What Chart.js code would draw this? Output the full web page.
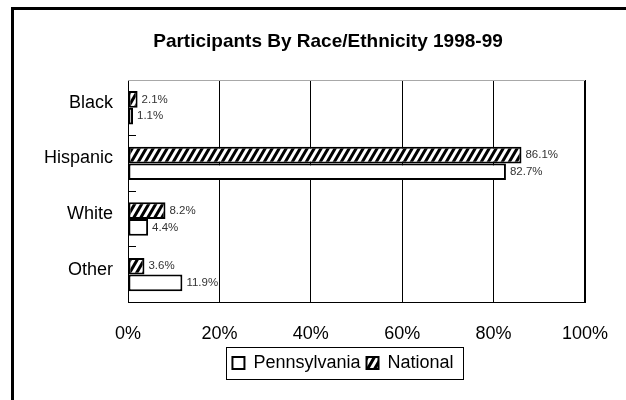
<!DOCTYPE html>
<html>
<head>
<meta charset="utf-8">
<script src="https://cdn.jsdelivr.net/npm/chart.js@4/dist/chart.umd.min.js"></script>
<style>
    html, body { margin: 0; padding: 0; background: #fff; overflow: hidden; }
    #frame { position: absolute; left: 11px; top: 7px; width: 2000px; height: 2000px; border: 3px solid #000; }
    #chart { position: absolute; left: 0; top: 0; }
</style>
</head>
<body>
<div id="frame"></div>
<canvas id="chart" width="626" height="400"></canvas>
<script>
const categories = ['Black', 'Hispanic', 'White', 'Other'];
const nationalValues = [2.1, 86.1, 8.2, 3.6];
const pennsylvaniaValues = [1.1, 82.7, 4.4, 11.9];
const xTickMin = 0;
const xTickMax = 100;
const xTickStep = 20;

const FONT = '"Liberation Sans", Arial, sans-serif';

const $chart = document.getElementById('chart');
const ctx = $chart.getContext('2d');

// diagonal hatch used for the National series
function makeHatch() {
    const tile = document.createElement('canvas');
    tile.width = 7;
    tile.height = 12;
    const g = tile.getContext('2d');
    g.fillStyle = '#fff';
    g.fillRect(0, 0, 7, 12);
    g.fillStyle = '#000';
    for (const k of [-1, 0, 1]) {
        g.beginPath();
        g.moveTo(k * 7, 12);
        g.lineTo(k * 7 + 7, 0);
        g.lineTo(k * 7 + 10.5, 0);
        g.lineTo(k * 7 + 3.5, 12);
        g.closePath();
        g.fill();
    }
    return ctx.createPattern(tile, 'repeat');
}

const titleCenterX = 328;
const legendCenterX = 343;

const framePlugin = {
    id: 'frame',
    afterLayout(chart) {
        const t = chart.titleBlock;
        const dt = titleCenterX - (t.left + t.right) / 2;
        t.left += dt;
        t.right += dt;
        const l = chart.legend;
        const dl = legendCenterX - (l.left + l.right) / 2;
        l.left += dl;
        l.right += dl;
    },
    afterDraw(chart) {
        const c = chart.ctx;
        const area = chart.chartArea;
        c.save();
        // top edge of the plot area
        c.strokeStyle = '#a8a8a8';
        c.lineWidth = 1;
        c.beginPath();
        c.moveTo(area.left, area.top + 0.5);
        c.lineTo(area.right, area.top + 0.5);
        c.stroke();
        // box around the legend
        const boxes = chart.legend.legendHitBoxes;
        if (boxes && boxes.length) {
            const left = Math.min(...boxes.map(b => b.left)) - 6;
            const right = Math.max(...boxes.map(b => b.left + b.width)) + 10;
            const cy = boxes[0].top + boxes[0].height / 2;
            c.strokeStyle = '#000';
            c.lineWidth = 1;
            c.strokeRect(Math.round(left) + 0.5, Math.round(cy - 16) + 0.5, Math.round(right - left), 32);
        }
        c.restore();
    }
};

const valueLabelPlugin = {
    id: 'valueLabels',
    afterDatasetsDraw(chart) {
        const c = chart.ctx;
        c.save();
        c.font = '11.5px ' + FONT;
        c.fillStyle = '#333';
        c.textAlign = 'left';
        c.textBaseline = 'middle';
        chart.data.datasets.forEach((dataset, i) => {
            const meta = chart.getDatasetMeta(i);
            meta.data.forEach((bar, j) => {
                c.fillText(dataset.data[j].toFixed(1) + '%', bar.x + 4, bar.y);
            });
        });
        c.restore();
    }
};

new Chart($chart, {
    type: 'bar',
    data: {
        labels: categories,
        datasets: [{
            label: 'National',
            data: nationalValues,
            backgroundColor: makeHatch(),
            borderColor: '#000',
            borderWidth: 2,
            borderSkipped: false
        }, {
            label: 'Pennsylvania',
            data: pennsylvaniaValues,
            backgroundColor: '#fff',
            borderColor: '#000',
            borderWidth: 2,
            borderSkipped: false
        }]
    },
    options: {
        indexAxis: 'y',
        responsive: false,
        animation: false,
        devicePixelRatio: 1,
        categoryPercentage: 0.6,
        barPercentage: 1,
        layout: {
            padding: { left: 30, right: 41, top: 0, bottom: 18 }
        },
        plugins: {
            title: {
                display: true,
                text: 'Participants By Race/Ethnicity 1998-99',
                color: '#000',
                font: { family: FONT, size: 19, weight: 'bold' },
                padding: { top: 30.5, bottom: 26.7 }
            },
            legend: {
                position: 'bottom',
                reverse: true,
                labels: {
                    color: '#000',
                    font: { family: FONT, size: 18 },
                    boxWidth: 12,
                    boxHeight: 12,
                    padding: 6
                }
            },
            tooltip: { enabled: false }
        },
        scales: {
            x: {
                min: xTickMin,
                max: xTickMax,
                ticks: {
                    stepSize: xTickStep,
                    color: '#000',
                    padding: 3,
                    font: { family: FONT, size: 18 },
                    callback: value => value + '%'
                },
                grid: {
                    color: '#000',
                    lineWidth: c => (c.index === 5 ? 2 : 1),
                    drawTicks: true,
                    tickLength: 18,
                    tickColor: 'rgba(0,0,0,0)'
                },
                border: { color: '#000', width: 1 }
            },
            y: {
                afterFit: scale => { scale.width = 98; },
                ticks: {
                    color: '#000',
                    padding: 23,
                    labelOffset: -5,
                    font: { family: FONT, size: 18 }
                },
                grid: {
                    color: '#000',
                    drawOnChartArea: false,
                    tickLength: -8
                },
                border: { color: '#000', width: 1 }
            }
        }
    },
    plugins: [framePlugin, valueLabelPlugin]
});
</script>
</body>
</html>
